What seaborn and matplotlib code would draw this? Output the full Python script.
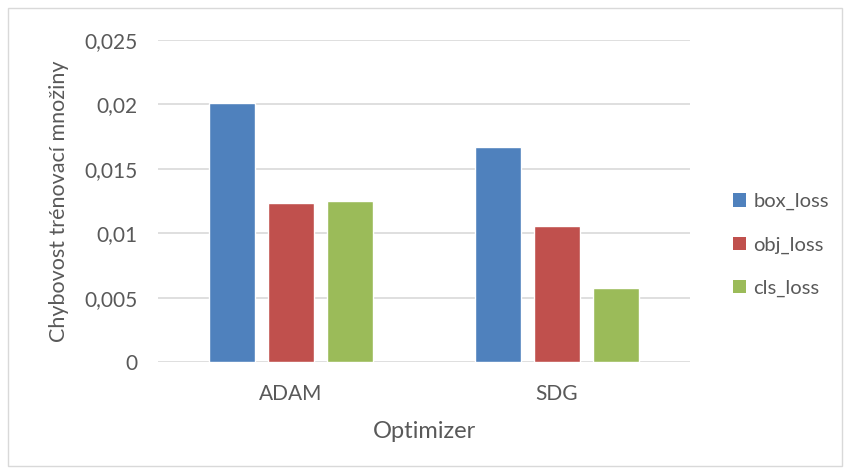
import matplotlib
matplotlib.use("Agg")
import matplotlib.pyplot as plt
from matplotlib.patches import Rectangle, Patch
import seaborn as sns
import pandas as pd

optimizers = ["ADAM", "SDG"]
series = ["box_loss", "obj_loss", "cls_loss"]
box_loss = [0.0201, 0.01668]
obj_loss = [0.01238, 0.01059]
cls_loss = [0.01248, 0.00575]
colors = ["#4f81bd", "#c0504d", "#9bbb59"]

df = pd.DataFrame({
    "Optimizer": optimizers * 3,
    "series": [s for s in series for _ in optimizers],
    "value": box_loss + obj_loss + cls_loss,
})

sns.set_theme(style="white")
plt.rcParams["font.family"] = ["Lato", "DejaVu Sans"]
text_color = "#595959"

fig = plt.figure(figsize=(8.5, 4.74), dpi=100)
ax = fig.add_axes([158 / 850, 1 - 362 / 474, 532 / 850, 322 / 474])

sns.barplot(data=df, x="Optimizer", y="value", hue="series", hue_order=series,
            palette=colors, width=0.666, gap=0.22, saturation=1, ax=ax,
            legend=False, errorbar=None)

ax.set_ylim(0, 0.025)
ax.set_xlim(-0.5, 1.5)
ticks = [0, 0.005, 0.01, 0.015, 0.02, 0.025]
ax.set_yticks(ticks)
ax.set_yticklabels(["0", "0,005", "0,01", "0,015", "0,02", "0,025"])
ax.yaxis.grid(True, color="#d9d9d9", linewidth=1.2)
ax.set_axisbelow(True)
for sp in ax.spines.values():
    sp.set_visible(False)
ax.tick_params(axis="both", length=0, labelsize=15, colors=text_color)
ax.tick_params(axis="y", pad=15)
ax.tick_params(axis="x", pad=16)
ax.set_xlabel("Optimizer", fontsize=17, color=text_color, labelpad=12)
ax.set_ylabel("Chybovost trénovací množiny", fontsize=15.5, color=text_color)
ax.yaxis.set_label_coords(-0.167, 0.5)

handles = [Patch(facecolor=c, edgecolor="none") for c in colors]
fig.legend(handles, series, loc="center left", bbox_to_anchor=(733 / 850, 1 - 245 / 474),
           frameon=False, fontsize=14.5, labelcolor=text_color, handlelength=0.65,
           handleheight=0.65, handletextpad=0.35, labelspacing=1.3,
           borderpad=0, borderaxespad=0)

fig.patches.append(Rectangle((8 / 850, 8 / 474), 834 / 850, 458 / 474,
                             transform=fig.transFigure, fill=False,
                             edgecolor="#d9d9d9", linewidth=1))

fig.savefig("out.png", dpi=100, facecolor="white")
